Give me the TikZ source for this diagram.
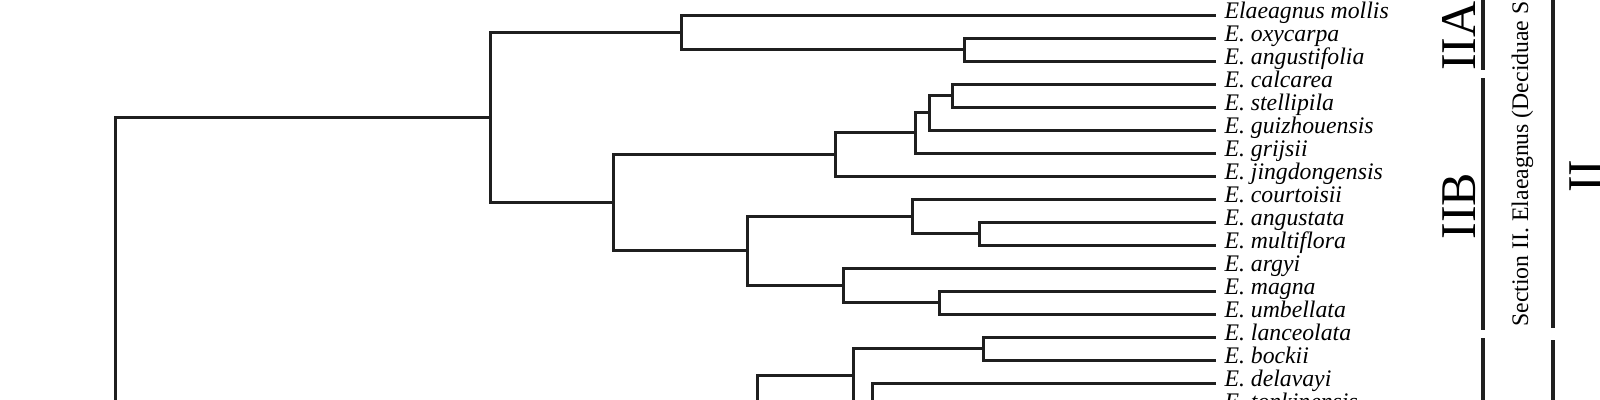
\documentclass[tikz,border=0pt]{standalone}
\usepackage{fontspec}
\setmainfont{Liberation Serif}
\usepackage{tikz}
\usetikzlibrary{arrows}
\usetikzlibrary{calc}

\begin{document}
\begin{tikzpicture}[x=0.4pt,y=-0.4pt,line width=1.2pt,draw=black!88,
	taxon/.style={anchor=west,inner xsep=2.8pt,inner ysep=0pt,text height=6pt,text depth=3.6pt,font=\fontsize{9.5}{11}\selectfont\itshape},
	clade/.style={rotate=90,anchor=base,inner sep=0pt,font=\fontsize{20}{24}\selectfont},
	section/.style={rotate=90,anchor=base west,inner sep=0pt,font=\fontsize{9.5}{11}\selectfont},
	branch/.style={to path={|- (\tikztotarget)}},
	bar/.style={line width=1.6pt}]

		\useasboundingbox (0,0) rectangle (1600,400);
		\clip (0,0) rectangle (1600,400);

				\node[taxon] (mollis) at (1216,15) {Elaeagnus mollis};
				\node[taxon] (oxycarpa) at (1216,38) {E. oxycarpa};
				\node[taxon] (angustifolia) at (1216,61) {E. angustifolia};
				\node[taxon] (calcarea) at (1216,84) {E. calcarea};
				\node[taxon] (stellipila) at (1216,107) {E. stellipila};
				\node[taxon] (guizhouensis) at (1216,130) {E. guizhouensis};
				\node[taxon] (grijsii) at (1216,153) {E. grijsii};
				\node[taxon] (jingdongensis) at (1216,176) {E. jingdongensis};
				\node[taxon] (courtoisii) at (1216,199) {E. courtoisii};
				\node[taxon] (angustata) at (1216,222) {E. angustata};
				\node[taxon] (multiflora) at (1216,245) {E. multiflora};
				\node[taxon] (argyi) at (1216,268) {E. argyi};
				\node[taxon] (magna) at (1216,291) {E. magna};
				\node[taxon] (umbellata) at (1216,314) {E. umbellata};
				\node[taxon] (lanceolata) at (1216,337) {E. lanceolata};
				\node[taxon] (bockii) at (1216,360) {E. bockii};
				\node[taxon] (delavayi) at (1216,383) {E. delavayi};
				\node[taxon] (tonkinensis) at (1216,406) {E. tonkinensis};

				\coordinate (R) at (115,430);
				\coordinate (A) at (490,117.5);
				\coordinate (B) at (681,32.5);
				\coordinate (D) at (964,49.5);
				\coordinate (C) at (613,202.6);
				\coordinate (E) at (835,154.4);
				\coordinate (F) at (915,132.9);
				\coordinate (G) at (929,112.75);
				\coordinate (G2) at (952,95.5);
				\coordinate (H) at (747,250.75);
				\coordinate (I) at (912,216.25);
				\coordinate (J) at (979,233.5);
				\coordinate (K) at (843,285.25);
				\coordinate (L) at (939,302.5);
				\coordinate (O) at (757,420);
				\coordinate (N) at (853,375);
				\coordinate (M) at (983,348.5);
				\coordinate (P) at (872,404);

				\path[every edge/.style={draw,branch}]
				(R) edge (A)
				(A) edge (B)
				(A) edge (C)
				(B) edge (mollis)
				(B) edge (D)
				(D) edge (oxycarpa)
				(D) edge (angustifolia)
				(C) edge (E)
				(C) edge (H)
				(E) edge (F)
				(E) edge (jingdongensis)
				(F) edge (G)
				(F) edge (grijsii)
				(G) edge (G2)
				(G) edge (guizhouensis)
				(G2) edge (calcarea)
				(G2) edge (stellipila)
				(H) edge (I)
				(H) edge (K)
				(I) edge (courtoisii)
				(I) edge (J)
				(J) edge (angustata)
				(J) edge (multiflora)
				(K) edge (argyi)
				(K) edge (L)
				(L) edge (magna)
				(L) edge (umbellata)
				(O) edge (N)
				(N) edge (M)
				(N) edge (P)
				(M) edge (lanceolata)
				(M) edge (bockii)
				(P) edge (delavayi)
				(P) edge (tonkinensis);

				\node[clade] (IIA) at (1475,36) {IIA};
				\node[clade] (IIB) at (1475,206) {IIB};
				\node[section] (sect) at (1528,328) {Section II. Elaeagnus (Deciduae Servettaz)};
				\node[clade] (II) at (1602,176) {II};

				\draw[bar] (1483,-10) -- (1483,70);
				\draw[bar] (1483,78) -- (1483,330);
				\draw[bar] (1483,338) -- (1483,410);
				\draw[bar] (1553,-10) -- (1553,328);
				\draw[bar] (1553,340) -- (1553,410);

			\end{tikzpicture}
\end{document}
